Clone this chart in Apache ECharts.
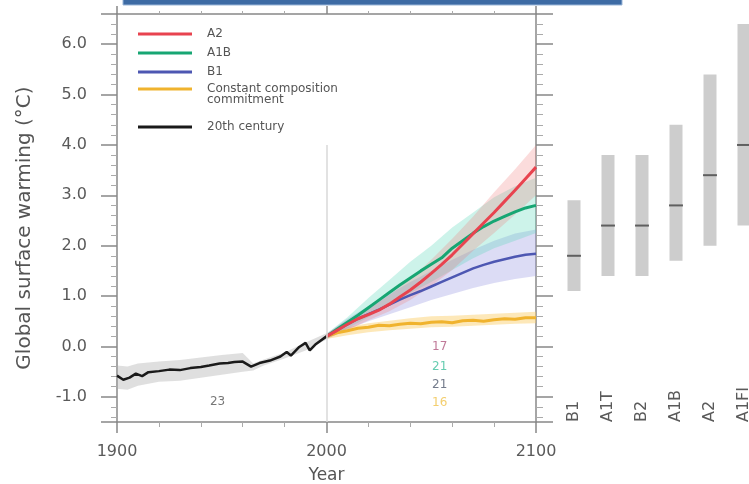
<!DOCTYPE html>
<html><head><meta charset="utf-8">
<script src="https://cdn.jsdelivr.net/npm/echarts/dist/echarts.min.js"></script>
<style>html,body{margin:0;padding:0;background:#fff}#c{width:749px;height:484px}</style>
</head><body><div id="c"></div>
<script>
// ---- 20th century observations / model mean ----
const histYears  = [1900,1903,1906,1909,1912,1915,1920,1925,1930,1935,1940,1944,1949,1953,1956,1960,1964,1968,1973,1978,1981,1983,1987,1990,1992,1995,2000];
const histValues = [-0.58,-0.66,-0.62,-0.54,-0.59,-0.51,-0.49,-0.46,-0.47,-0.43,-0.41,-0.38,-0.34,-0.33,-0.31,-0.30,-0.40,-0.33,-0.28,-0.20,-0.11,-0.18,-0.01,0.07,-0.08,0.05,0.20];
const histBandYears = [1900,1905,1910,1920,1930,1940,1950,1960,1965,1970,1980,1990,2000];
const histBandLow   = [-0.84,-0.86,-0.78,-0.70,-0.68,-0.62,-0.56,-0.50,-0.48,-0.38,-0.24,-0.08,0.14];
const histBandHigh  = [-0.38,-0.40,-0.34,-0.30,-0.27,-0.22,-0.17,-0.13,-0.34,-0.26,-0.12,0.08,0.26];

// ---- scenario projections ----
const projYears = [2000,2005,2010,2015,2020,2025,2030,2035,2040,2045,2050,2055,2060,2065,2070,2075,2080,2085,2090,2095,2100];
const a2Values  = [0.20,0.32,0.44,0.55,0.63,0.72,0.84,0.98,1.12,1.28,1.45,1.63,1.82,2.03,2.24,2.45,2.66,2.88,3.10,3.33,3.56];
const a1bValues = [0.20,0.34,0.48,0.62,0.77,0.92,1.07,1.22,1.36,1.50,1.63,1.76,1.95,2.10,2.25,2.38,2.49,2.58,2.67,2.75,2.80];
const b1Values  = [0.20,0.32,0.44,0.55,0.64,0.73,0.83,0.93,1.02,1.10,1.19,1.28,1.37,1.46,1.55,1.62,1.68,1.73,1.78,1.82,1.84];
const constValues = [0.20,0.27,0.31,0.36,0.38,0.42,0.41,0.44,0.46,0.45,0.48,0.49,0.47,0.51,0.52,0.50,0.53,0.55,0.54,0.57,0.57];

const bandYears = [2000,2010,2020,2030,2040,2050,2060,2070,2080,2090,2100];
const a2Low   = [0.15,0.32,0.52,0.70,0.92,1.20,1.52,1.90,2.25,2.62,3.00];
const a2High  = [0.25,0.52,0.76,1.02,1.34,1.72,2.14,2.58,3.06,3.52,4.00];
const a1bLow  = [0.15,0.36,0.58,0.82,1.06,1.28,1.52,1.75,1.95,2.10,2.25];
const a1bHigh = [0.25,0.58,0.96,1.32,1.68,2.00,2.36,2.66,2.96,3.18,3.35];
const b1Low   = [0.15,0.34,0.50,0.64,0.78,0.92,1.04,1.16,1.26,1.34,1.40];
const b1High  = [0.25,0.55,0.80,1.04,1.28,1.50,1.72,1.92,2.10,2.24,2.32];
const constLow  = [0.15,0.22,0.28,0.32,0.35,0.38,0.39,0.41,0.43,0.45,0.46];
const constHigh = [0.25,0.38,0.46,0.51,0.56,0.60,0.61,0.63,0.65,0.67,0.69];

// ---- likely ranges at 2090-2099 (right panel) ----
const rangeScenarios = ['B1','A1T','B2','A1B','A2','A1FI'];
const rangeLow  = [1.1,1.4,1.4,1.7,2.0,2.4];
const rangeHigh = [2.9,3.8,3.8,4.4,5.4,6.4];
const bestEstimate = [1.8,2.4,2.4,2.8,3.4,4.0];

// ---- model counts annotations ----
const annotationTexts = ['23','17','21','21','16'];
const annotationYears = [1948,2054,2054,2054,2054];
const annotationVals  = [-1.11,0.0,-0.40,-0.77,-1.13];
const annotationColors = ['#555555','#b0587e','#3fbf9c','#505a6e','#f0c24a'];

const yTickMin = -1.5, yTickMax = 6.6;
const FONT = 'DejaVu Sans';
const C = {a2:'#e8434f', a1b:'#17a673', b1:'#4d57b2', cst:'#f0b32e', hist:'#1a1a1a'};
const pairs = (xs, ys) => xs.map((x, i) => [x, ys[i]]);

function band(xs, lo, hi, color) {
  return {type:'custom', xAxisIndex:0, yAxisIndex:0, silent:true, z:1,
    data: xs.map((x, i) => [x, lo[i], hi[i]]),
    encode:{x:0, y:[1,2]},
    renderItem:(params, api) => {
      if (params.dataIndex !== 0) return null;
      const top = xs.map((x, i) => api.coord([x, hi[i]]));
      const bot = xs.map((x, i) => api.coord([x, lo[i]])).reverse();
      return {type:'polygon', shape:{points: top.concat(bot)}, style:{fill: color}};
    }};
}
const line = (name, xs, ys, color, w) => ({type:'line', name, data:pairs(xs, ys), symbol:'none',
  lineStyle:{color, width:w}, itemStyle:{color}, z:3, silent:true});

const CONST_NAME = 'Constant composition\ncommitment';
const legendBase = {orient:'vertical', left:138, padding:0, itemWidth:54, itemHeight:3, itemGap:7, icon:'rect',
  selectedMode:false, textStyle:{fontFamily:FONT, fontSize:12, lineHeight:12, color:'#555', padding:[0,0,0,10]}};

const option = {
  animation:false,
  backgroundColor:'#fff',
  graphic:[
    {type:'rect', shape:{x:123, y:-2, width:499, height:7}, style:{fill:'#3d6ba4', stroke:'#9ab6d8', lineWidth:1}, z:100},
    {type:'text', left:207, top:94, style:{text:CONST_NAME.split('\n')[1], font:'12px "DejaVu Sans"', fill:'#555'}, z:100}
  ],
  legend:[
    Object.assign({}, legendBase, {data:['A2','A1B','B1'], top:28}),
    Object.assign({}, legendBase, {data:[CONST_NAME], top:83, formatter:n => n.split('\n')[0]}),
    Object.assign({}, legendBase, {data:['20th century'], top:121})
  ],
  grid:[
    {left:117, top:14, width:419, height:408, outerBoundsMode:'none', containLabel:false},
    {left:557, top:14, width:204, height:408, outerBoundsMode:'none', containLabel:false}
  ],
  xAxis:[
    {type:'value', gridIndex:0, min:1900, max:2100, interval:100, position:'bottom',
     name:'Year', nameLocation:'middle', nameGap:45,
     nameTextStyle:{fontFamily:FONT, fontSize:17, color:'#555'},
     axisLine:{onZero:false, lineStyle:{color:'#888', width:1.5}},
     axisTick:{length:11, lineStyle:{color:'#888', width:1.5}},
     minorTick:{show:true, splitNumber:5, length:5, lineStyle:{color:'#aaa'}},
     axisLabel:{fontFamily:FONT, fontSize:16, color:'#5a5a5a', margin:22, formatter:v => String(v)},
     splitLine:{show:false}},
    {type:'value', gridIndex:0, min:1900, max:2100, interval:100, position:'top',
     axisLine:{onZero:false, lineStyle:{color:'#888', width:1.5}},
     axisTick:{length:8, lineStyle:{color:'#888', width:1.5}},
     minorTick:{show:true, splitNumber:5, length:3, lineStyle:{color:'#aaa'}},
     axisLabel:{show:false}, splitLine:{show:false}},
    {type:'category', gridIndex:1, data:rangeScenarios, position:'bottom',
     axisLine:{show:false, onZero:false}, axisTick:{show:false},
     axisLabel:{inside:true, rotate:90, margin:0, interval:0, fontFamily:FONT, fontSize:16, color:'#5a5a5a'}}
  ],
  yAxis:[
    {type:'value', gridIndex:0, min:yTickMin, max:yTickMax, splitNumber:8, position:'left',
     name:'Global surface warming (°C)', nameLocation:'middle', nameGap:82,
     nameTextStyle:{fontFamily:FONT, fontSize:20, color:'#555', padding:[0,20,0,0]},
     axisLine:{show:true, onZero:false, lineStyle:{color:'#888', width:1.5}},
     axisTick:{show:true, length:16, lineStyle:{color:'#888', width:1.5}},
     minorTick:{show:true, splitNumber:5, length:6, lineStyle:{color:'#aaa'}},
     axisLabel:{fontFamily:FONT, fontSize:16, color:'#5a5a5a', margin:30, showMinLabel:false, showMaxLabel:false,
       formatter:v => v.toFixed(1)},
     splitLine:{show:false}},
    {type:'value', gridIndex:0, min:yTickMin, max:yTickMax, splitNumber:8, position:'right',
     axisLine:{show:true, onZero:false, lineStyle:{color:'#888', width:1.5}},
     axisTick:{show:true, length:17, lineStyle:{color:'#888', width:1.5}},
     minorTick:{show:true, splitNumber:5, length:7, lineStyle:{color:'#aaa'}},
     axisLabel:{show:false}, splitLine:{show:false}},
    {type:'value', gridIndex:1, min:yTickMin, max:yTickMax, show:false}
  ],
  series:[
    band(histBandYears, histBandLow, histBandHigh, 'rgba(170,170,170,0.38)'),
    band(bandYears, constLow, constHigh, 'rgba(250,205,100,0.45)'),
    band(bandYears, b1Low, b1High, 'rgba(150,150,225,0.33)'),
    band(bandYears, a1bLow, a1bHigh, 'rgba(90,215,185,0.30)'),
    band(bandYears, a2Low, a2High, 'rgba(240,120,120,0.26)'),
    Object.assign(line('20th century', histYears, histValues, C.hist, 2.5), {
      markLine:{silent:true, symbol:'none', label:{show:false},
        lineStyle:{color:'#d8d8d8', width:1.5, type:'solid'},
        data:[[{coord:[2000, 4.0]}, {coord:[2000, -1.5]}]]}, z:2}),
    line(CONST_NAME, projYears, constValues, C.cst, 3),
    line('B1', projYears, b1Values, C.b1, 2.5),
    line('A1B', projYears, a1bValues, C.a1b, 3),
    line('A2', projYears, a2Values, C.a2, 3),
    {type:'scatter', name:'counts', silent:true, symbolSize:1, itemStyle:{color:'transparent'}, z:6,
     data:annotationTexts.map((t, i) => ({value:[annotationYears[i], annotationVals[i]],
       label:{color:annotationColors[i]}})),
     label:{show:true, position:'inside', fontFamily:FONT, fontSize:12,
       formatter:p => annotationTexts[p.dataIndex]}},
    {type:'bar', xAxisIndex:2, yAxisIndex:2, data:rangeLow, stack:'r', stackStrategy:'all', barWidth:13,
     itemStyle:{color:'transparent'}, silent:true},
    {type:'bar', xAxisIndex:2, yAxisIndex:2, data:rangeHigh.map((h, i) => h - rangeLow[i]), stack:'r',
     stackStrategy:'all', barWidth:13, itemStyle:{color:'#cdcdcd'}, silent:true},
    {type:'scatter', xAxisIndex:2, yAxisIndex:2, data:bestEstimate, symbol:'rect', symbolSize:[14,2],
     itemStyle:{color:'#444'}, silent:true, z:5}
  ]
};
const chart = echarts.init(document.getElementById('c'));
chart.setOption(option);
</script>
</body></html>
